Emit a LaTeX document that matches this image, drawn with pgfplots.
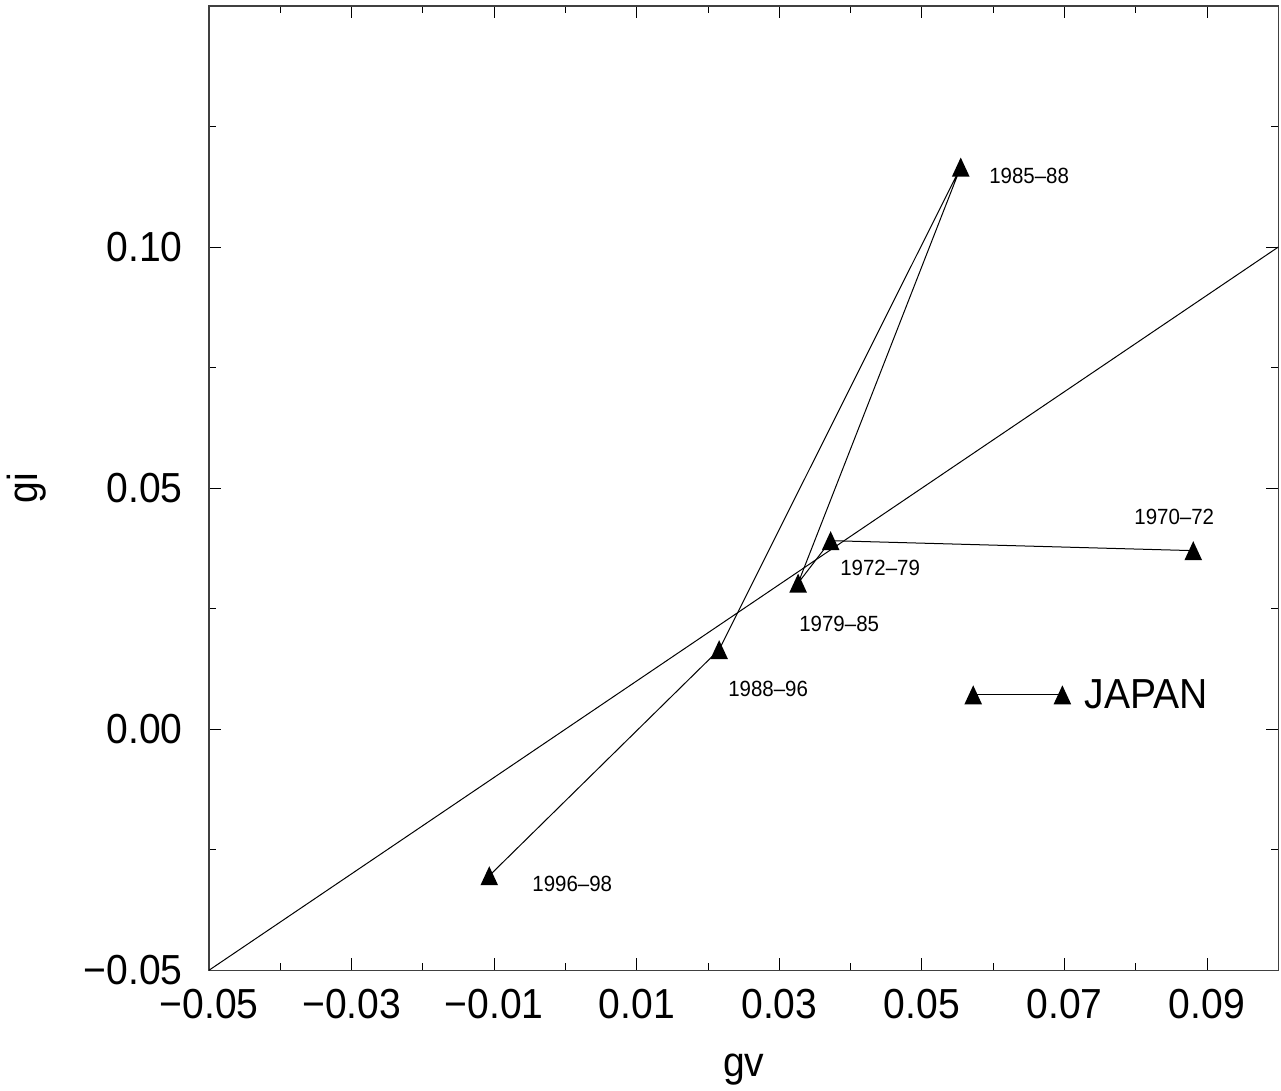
\documentclass[border=0pt]{standalone}
\usepackage{fontspec}
\setmainfont{Liberation Sans}[FakeStretch=0.93]
\usepackage{pgfplots}
\pgfplotsset{compat=1.18}
\pgfdeclareplotmark{tri}{%
  \pgfpathmoveto{\pgfqpoint{0pt}{4.75pt}}%
  \pgfpathlineto{\pgfqpoint{-4.4pt}{-4.75pt}}%
  \pgfpathlineto{\pgfqpoint{4.4pt}{-4.75pt}}%
  \pgfpathclose
  \pgfusepathqfill}
\begin{document}
\begin{tikzpicture}
\begin{axis}[
  at={(0,0)}, anchor=south west,
  scale only axis, width=534.5pt, height=482pt,
  xmin=-0.05, xmax=0.10, ymin=-0.05, ymax=0.15,
  xtick={-0.05,-0.03,-0.01,0.01,0.03,0.05,0.07,0.09},
  xticklabels={−0.05,−0.03,−0.01,0.01,0.03,0.05,0.07,0.09},
  minor xtick={-0.04,-0.02,0,0.02,0.04,0.06,0.08,0.10},
  ytick={-0.05,0,0.05,0.10,0.15},
  yticklabels={−0.05,0.00,0.05,0.10,{}},
  minor ytick={-0.025,0.025,0.075,0.125},
  major tick length=6pt, minor tick length=3.5pt,
  tick style={black, line width=0.5pt},
  axis line style={black!75, line width=0.6pt},
  tick label style={font=\fontsize{21}{25}\selectfont},
  xticklabel style={anchor=north, inner sep=0pt, yshift=-9.5pt},
  yticklabel style={anchor=east, inner sep=0pt, xshift=-13pt},
  xlabel={gv}, ylabel={gi},
  label style={font=\fontsize{21}{25}\selectfont},
  xlabel style={at={([yshift=-53pt]axis description cs:0.5,0)}, anchor=base},
  ylabel style={at={([xshift=-86pt]axis description cs:0,0.5)}, anchor=base},
]
\addplot[black, line width=0.5pt, no marks] coordinates {(-0.05,-0.05) (0.10,0.10)};
\addplot[black, line width=0.5pt, mark=tri] coordinates {
  (0.08807,0.03703) (0.0372,0.0391) (0.03264,0.0303)
  (0.05545,0.1166) (0.02156,0.0165) (-0.01069,-0.0304)};
\addplot[black, line width=0.5pt, mark=tri] coordinates {(0.0572,0.00712) (0.06971,0.00712)};
\node[font=\fontsize{11}{13}\selectfont] at (axis cs:0.06505,0.11473) {1985–88};
\node[font=\fontsize{11}{13}\selectfont] at (axis cs:0.0854,0.0440) {1970–72};
\node[font=\fontsize{11}{13}\selectfont] at (axis cs:0.04415,0.0334) {1972–79};
\node[font=\fontsize{11}{13}\selectfont] at (axis cs:0.0384,0.0218) {1979–85};
\node[font=\fontsize{11}{13}\selectfont] at (axis cs:0.02843,0.0083) {1988–96};
\node[font=\fontsize{11}{13}\selectfont] at (axis cs:0.00096,-0.0322) {1996–98};
\node[anchor=west, inner sep=0pt, font=\fontsize{21}{25}\selectfont] at (axis cs:0.07277,0.0073) {JAPAN};
\end{axis}
\pgfresetboundingbox
\path (-104.5pt,-60pt) rectangle (535.85pt,485pt);
\end{tikzpicture}
\end{document}
